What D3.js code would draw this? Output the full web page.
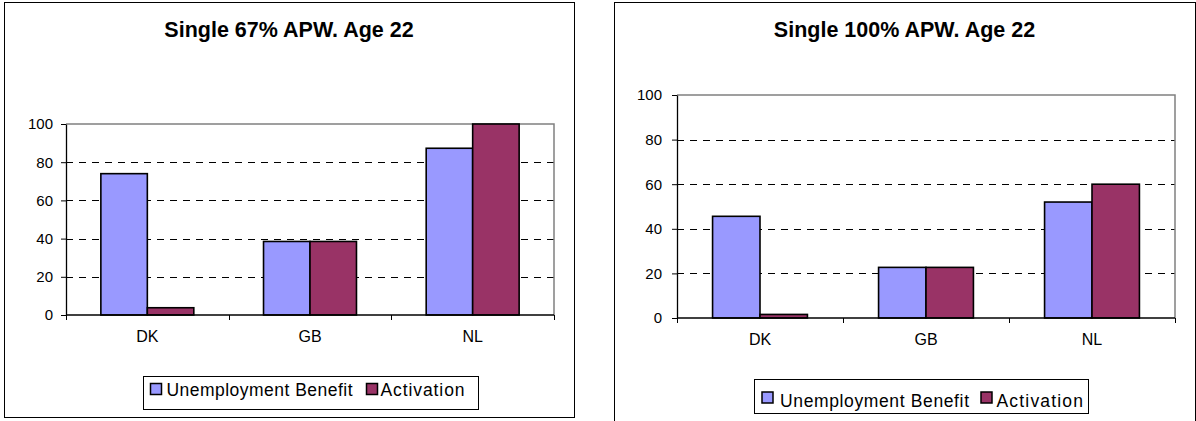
<!DOCTYPE html>
<html>
<head>
<meta charset="utf-8">
<script src="https://cdn.jsdelivr.net/npm/d3@7"></script>
<style>
  html, body { margin: 0; padding: 0; background: #fff; }
  svg { display: block; font-family: "Liberation Sans", Arial, sans-serif; }
</style>
</head>
<body>
<svg id="chart" width="1196" height="421"></svg>
<script>
// Dades
const categories = ['DK', 'GB', 'NL'];
const seriesNames = ['Unemployment Benefit', 'Activation'];
const seriesColors = ['#9999FF', '#993366'];
const yTicks = [0, 20, 40, 60, 80, 100];

const ub67 = [74, 38.5, 87.3];
const act67 = [3.8, 38.5, 100];
const ub100 = [45.6, 22.7, 52];
const act100 = [1.6, 22.7, 60];

const FONT = '"Liberation Sans", Arial, sans-serif';
const svg = d3.select('#chart');

function drawPanel(opts) {
    const g = svg.append('g').attr('font-family', FONT);

    // Marc del gràfic
    g.append('rect')
        .attr('x', opts.frame[0] + 0.5)
        .attr('y', opts.frame[1] + 0.5)
        .attr('width', opts.frame[2])
        .attr('height', opts.frame[3])
        .attr('fill', '#fff')
        .attr('stroke', '#000')
        .attr('stroke-width', 1);

    const [left, top, right, bottom] = opts.plot;

    const x0 = d3.scaleBand().domain(categories).range([left, right]).padding(0);
    const x1 = d3.scaleBand().domain(seriesNames).range([0, x0.bandwidth()])
        .paddingInner(0).paddingOuter(0.75);
    const y = d3.scaleLinear().domain([0, 100]).range([bottom, top]);

    // Graella discontínua
    g.selectAll('.grid')
        .data(yTicks.filter(t => t > 0 && t < 100))
        .enter().append('line')
        .attr('x1', left).attr('x2', right)
        .attr('y1', d => Math.round(y(d)) + 0.5).attr('y2', d => Math.round(y(d)) + 0.5)
        .attr('stroke', '#000')
        .attr('stroke-width', 1)
        .attr('stroke-dasharray', '7,6');

    // Vora superior i dreta de l'àrea
    g.append('path')
        .attr('d', `M${left},${y(100)}H${right}V${bottom}`)
        .attr('fill', 'none')
        .attr('stroke', '#808080')
        .attr('stroke-width', 1.5);

    // Barres
    const series = [opts.ub, opts.act];
    series.forEach((vals, si) => {
        g.selectAll(`.bar-${si}`)
            .data(categories.map((c, i) => ({ c, v: vals[i] })))
            .enter().append('rect')
            .attr('x', d => x0(d.c) + x1(seriesNames[si]))
            .attr('y', d => y(d.v))
            .attr('width', x1.bandwidth())
            .attr('height', d => y(0) - y(d.v))
            .attr('fill', seriesColors[si])
            .attr('stroke', '#000')
            .attr('stroke-width', 1.6);
    });

    // Eix Y
    const yAxis = g.append('g')
        .attr('transform', `translate(${left},0)`)
        .call(d3.axisLeft(y).tickValues(yTicks).tickSize(5).tickPadding(opts.tickPad).tickSizeOuter(0));
    yAxis.attr('font-family', FONT);
    yAxis.select('.domain').attr('stroke', '#000').attr('stroke-width', 1.3);
    yAxis.selectAll('.tick line').attr('stroke', '#000');
    yAxis.selectAll('text')
        .attr('font-size', '15px')
        .attr('fill', '#000');

    // Eix X
    g.append('line')
        .attr('x1', left).attr('x2', right)
        .attr('y1', bottom).attr('y2', bottom)
        .attr('stroke', '#000').attr('stroke-width', 1.3);
    g.selectAll('.xtick')
        .data(d3.range(categories.length + 1))
        .enter().append('line')
        .attr('x1', i => Math.round(left + i * x0.step()) + 0.5)
        .attr('x2', i => Math.round(left + i * x0.step()) + 0.5)
        .attr('y1', bottom).attr('y2', bottom + 5)
        .attr('stroke', '#000');
    g.selectAll('.xlabel')
        .data(categories)
        .enter().append('text')
        .attr('x', d => x0(d) + x0.bandwidth() / 2)
        .attr('y', opts.xLabelY)
        .attr('text-anchor', 'middle')
        .attr('font-size', '16px')
        .text(d => d);

    // Títol
    g.append('text')
        .attr('x', opts.frame[0] + opts.frame[2] / 2)
        .attr('y', opts.titleY)
        .attr('text-anchor', 'middle')
        .attr('font-size', '21.5px')
        .attr('font-weight', 'bold')
        .text(opts.title);

    // Llegenda
    const lg = opts.legend;
    g.append('rect')
        .attr('x', lg.box[0] + 0.5).attr('y', lg.box[1] + 0.5)
        .attr('width', lg.box[2]).attr('height', lg.box[3])
        .attr('fill', '#fff').attr('stroke', '#000').attr('stroke-width', 1);
    seriesNames.forEach((name, i) => {
        g.append('rect')
            .attr('x', lg.swatchX[i]).attr('y', lg.swatchY)
            .attr('width', 11).attr('height', 11)
            .attr('fill', seriesColors[i])
            .attr('stroke', '#000').attr('stroke-width', 1.5);
        g.append('text')
            .attr('x', lg.textX[i]).attr('y', lg.textY)
            .attr('font-size', '17.5px')
            .attr('textLength', lg.textW[i])
            .attr('lengthAdjust', 'spacing')
            .text(name);
    });
}

drawPanel({
    frame: [4, 2, 570, 415],
    plot: [66, 124, 554, 315],
    title: 'Single 67% APW. Age 22',
    titleY: 36.5,
    xLabelY: 342,
    tickPad: 8,
    ub: ub67,
    act: act67,
    legend: {
        box: [143, 376, 335, 33],
        swatchX: [150.5, 366.5],
        swatchY: 383.5,
        textX: [166.5, 380.5],
        textY: 396,
        textW: [186, 84]
    }
});

drawPanel({
    frame: [614, 2, 581, 440],
    plot: [677, 95, 1175, 318],
    title: 'Single 100% APW. Age 22',
    titleY: 37,
    xLabelY: 345,
    tickPad: 10,
    ub: ub100,
    act: act100,
    legend: {
        box: [754, 379, 334, 34],
        swatchX: [762, 981],
        swatchY: 392,
        textX: [780, 996.5],
        textY: 406.5,
        textW: [189, 86.5]
    }
});
</script>
</body>
</html>
